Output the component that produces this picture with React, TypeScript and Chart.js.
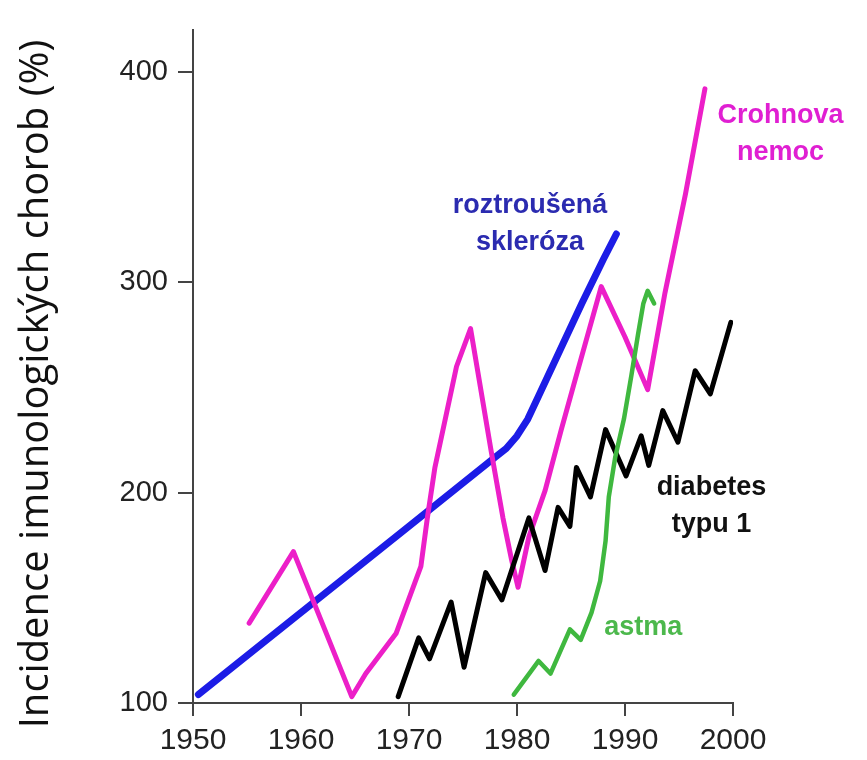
import React, { useEffect, useRef } from "react";
import { Chart, registerables } from "chart.js";

Chart.register(...registerables);

// Roztroušená skleróza (multiple sclerosis)
const msYears = [1950.5, 1960, 1970, 1978, 1979, 1980, 1981, 1982, 1984, 1986, 1988, 1989.2];
const msValues = [104, 143, 184, 217, 221, 227, 235, 246, 268, 290, 311, 323];

// Crohnova nemoc
const crohnYears = [1955.2, 1959.3, 1964.7, 1966, 1968.8, 1971.1, 1971.7, 1972.4, 1973.4, 1974.4, 1975.7, 1977.6, 1978.7, 1979.5, 1980.1, 1981.1, 1982.6, 1984.1, 1985.4, 1987.8, 1990, 1992.1, 1993.7, 1995.6, 1997.4];
const crohnValues = [138, 172, 103, 114, 133, 165, 188, 212, 236, 260, 278, 220, 188, 168, 155, 179, 201, 230, 254, 298, 274, 249, 295, 342, 392];

// Diabetes typu 1
const diabYears = [1969, 1970.9, 1971.9, 1973.9, 1975.1, 1977.1, 1978.6, 1981.1, 1982.6, 1983.8, 1984.9, 1985.5, 1986.8, 1988.2, 1990.1, 1991.5, 1992.2, 1993.5, 1994.9, 1996.5, 1997.9, 1999.8];
const diabValues = [103, 131, 121, 148, 117, 162, 149, 188, 163, 193, 184, 212, 198, 230, 208, 227, 213, 239, 224, 258, 247, 281];

// Astma
const astmaYears = [1979.7, 1982, 1983.1, 1984.9, 1985.9, 1986.9, 1987.7, 1988.2, 1988.5, 1989.1, 1989.9, 1990.6, 1991.2, 1991.7, 1992.1, 1992.7];
const astmaValues = [104, 120, 114, 135, 130, 143, 158, 177, 198, 217, 235, 256, 275, 290, 296, 290];

const xTicks = [1950, 1960, 1970, 1980, 1990, 2000];
const yTicks = [100, 200, 300, 400];

const yTitle = "Incidence imunologických chorob (%)";

const seriesLabels = [
  { lines: ["roztroušená", "skleróza"], x: 1981.2, y: 333, color: "#2b2bb0" },
  { lines: ["Crohnova", "nemoc"], x: 2004.4, y: 375.8, color: "#e01fd2" },
  { lines: ["diabetes", "typu 1"], x: 1998, y: 198.9, color: "#111111" },
  { lines: ["astma"], x: 1991.7, y: 132.3, color: "#4cb84c" },
];

const toPts = (xs: number[], ys: number[]) => xs.map((x, i) => ({ x, y: ys[i] }));

const textPlugin = {
  id: "textPlugin",
  afterDraw(chart: any) {
    const ctx = chart.ctx;
    const xs = chart.scales.x;
    const ys = chart.scales.y;
    ctx.save();
    ctx.font = "bold 27px 'Liberation Sans', Arial, sans-serif";
    ctx.textAlign = "center";
    ctx.textBaseline = "alphabetic";
    const lineStep = ys.getPixelForValue(100) - ys.getPixelForValue(117.5);
    seriesLabels.forEach((l) => {
      ctx.fillStyle = l.color;
      const px = xs.getPixelForValue(l.x);
      const py = ys.getPixelForValue(l.y);
      l.lines.forEach((t, i) => ctx.fillText(t, px, py + i * lineStep));
    });
    ctx.translate(37, 384);
    ctx.rotate(-Math.PI / 2);
    ctx.font = "40px 'Open Sans', 'Noto Sans', sans-serif";
    ctx.fillStyle = "#111111";
    ctx.textAlign = "center";
    ctx.textBaseline = "middle";
    ctx.fillText(yTitle, 0, 0);
    ctx.restore();
  },
};

export default function App() {
  const ref = useRef<HTMLCanvasElement | null>(null);
  useEffect(() => {
    document.body.style.margin = "0";
    const canvas = ref.current!;
    const common = {
      pointRadius: 0,
      fill: false,
      tension: 0,
      borderCapStyle: "round" as const,
      borderJoinStyle: "round" as const,
    };
    const chart = new Chart(canvas, {
      type: "line",
      data: {
        datasets: [
          { ...common, label: "astma", data: toPts(astmaYears, astmaValues), borderColor: "#3fb83f", borderWidth: 4.5 },
          { ...common, label: "diabetes typu 1", data: toPts(diabYears, diabValues), borderColor: "#000000", borderWidth: 5 },
          { ...common, label: "Crohnova nemoc", data: toPts(crohnYears, crohnValues), borderColor: "#ec1fc8", borderWidth: 5 },
          { ...common, label: "roztroušená skleróza", data: toPts(msYears, msValues), borderColor: "#1c1ce6", borderWidth: 7 },
        ],
      },
      options: {
        animation: false,
        responsive: false,
        maintainAspectRatio: false,
        layout: { padding: { top: 30, right: 134, bottom: 0, left: 0 } },
        plugins: { legend: { display: false }, tooltip: { enabled: false } },
        scales: {
          x: {
            type: "linear",
            min: 1950,
            max: 2000,
            afterBuildTicks: (s: any) => {
              s.ticks = xTicks.map((v) => ({ value: v }));
            },
            afterFit: (s: any) => {
              s.height = 57;
            },
            grid: { drawOnChartArea: false, drawTicks: true, tickLength: 13, color: "#444", lineWidth: 2 },
            border: { display: true, color: "#444", width: 2 },
            ticks: {
              color: "#222",
              font: { family: "'Liberation Sans', Arial, sans-serif", size: 30 },
              padding: 7,
              maxRotation: 0,
              autoSkip: false,
              callback: (v: any) => String(v),
            },
          },
          y: {
            type: "linear",
            min: 100,
            max: 420,
            afterBuildTicks: (s: any) => {
              s.ticks = yTicks.map((v) => ({ value: v }));
            },
            afterFit: (s: any) => {
              s.width = 193;
            },
            grid: { drawOnChartArea: false, drawTicks: true, tickLength: 15, color: "#444", lineWidth: 2 },
            border: { display: true, color: "#444", width: 2 },
            ticks: {
              color: "#222",
              font: { family: "'Liberation Sans', Arial, sans-serif", size: 29 },
              padding: 10,
              autoSkip: false,
              callback: (v: any) => String(v),
            },
          },
        },
      },
      plugins: [textPlugin],
    });
    return () => chart.destroy();
  }, []);
  return (
    <div style={{ position: "absolute", left: 0, top: 0, width: 867, height: 760, background: "#fff" }}>
      <canvas ref={ref} width={867} height={760} style={{ width: 867, height: 760 }} />
    </div>
  );
}
